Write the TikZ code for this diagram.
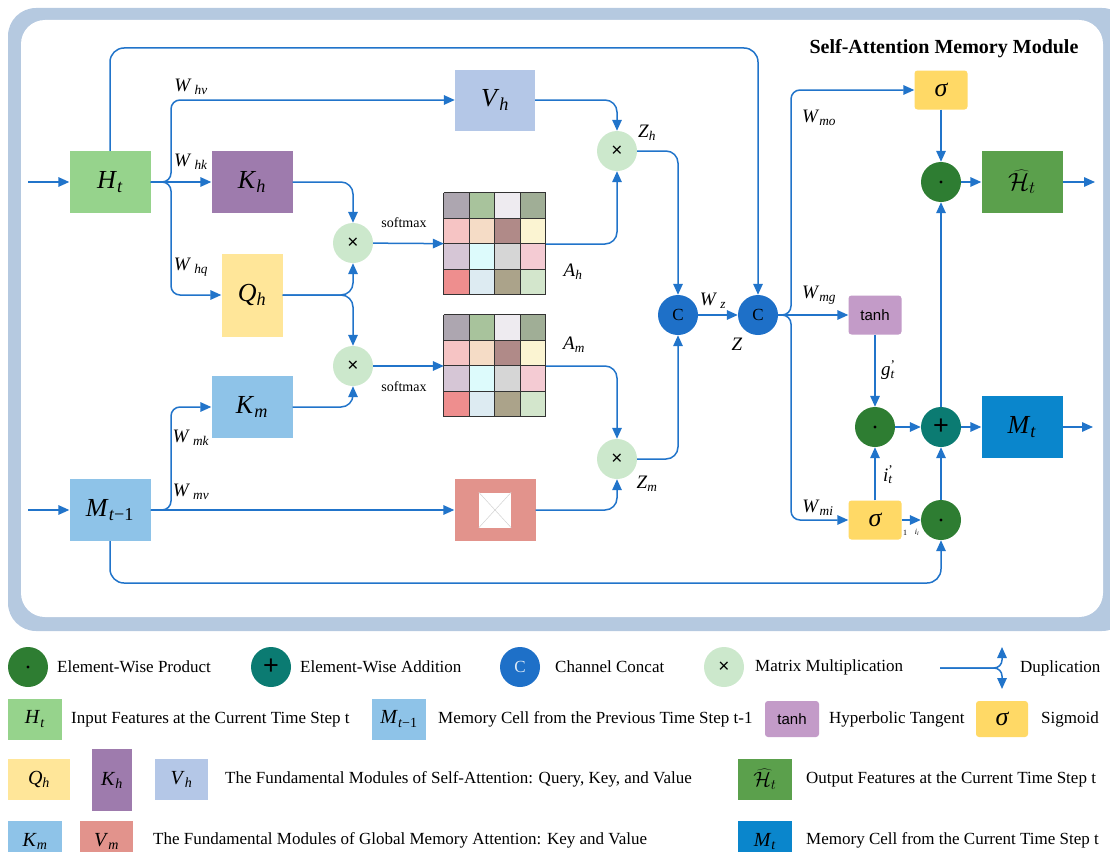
\documentclass[tikz,border=0pt]{standalone}
\usepackage{fontspec}
\setmainfont{Liberation Serif}
\newfontfamily\sansf{Liberation Sans}
\usetikzlibrary{arrows.meta}

\definecolor{framec}{HTML}{B5C9E0}
\definecolor{flowc}{HTML}{2174CA}
\definecolor{htc}{HTML}{96D38C}
\definecolor{khc}{HTML}{9E7BAD}
\definecolor{qhc}{HTML}{FFE699}
\definecolor{vhc}{HTML}{B4C7E7}
\definecolor{kmc}{HTML}{8EC3E8}
\definecolor{vmc}{HTML}{E2938C}
\definecolor{mulc}{HTML}{CCE8CC}
\definecolor{prodc}{HTML}{2E7D32}
\definecolor{addc}{HTML}{0B7B72}
\definecolor{catc}{HTML}{1E70C8}
\definecolor{sigc}{HTML}{FFD966}
\definecolor{tanhc}{HTML}{C39BC8}
\definecolor{hoc}{HTML}{5BA04C}
\definecolor{mtc}{HTML}{0A86CC}
\definecolor{gridc}{HTML}{333333}
% attention matrix cells
\definecolor{m1}{HTML}{ADA6B0}\definecolor{m2}{HTML}{A8C39C}\definecolor{m3}{HTML}{EEEBF0}\definecolor{m4}{HTML}{A0AE96}
\definecolor{m5}{HTML}{F6C4C4}\definecolor{m6}{HTML}{F5DCC6}\definecolor{m7}{HTML}{B08A88}\definecolor{m8}{HTML}{FBF4D2}
\definecolor{m9}{HTML}{D6C6D6}\definecolor{m10}{HTML}{DDFBFC}\definecolor{m11}{HTML}{D6D6D6}\definecolor{m12}{HTML}{F4CBD3}
\definecolor{m13}{HTML}{EE8E8E}\definecolor{m14}{HTML}{DDEBF2}\definecolor{m15}{HTML}{ABA38A}\definecolor{m16}{HTML}{D3E6CC}

\newcommand\lbl[2]{\textit{#1}\textsubscript{\textit{#2}}}

\tikzset{
  flow/.style={draw=flowc, line width=1.5pt, rounded corners=12pt, -{Triangle[length=11pt,width=9.5pt]}},
  blk/.style={rectangle, inner sep=0pt, minimum width=81pt, minimum height=62pt, font=\fontsize{26}{26}\selectfont},
  lgbox/.style={rectangle, inner sep=0pt, minimum width=54pt, minimum height=41pt, font=\fontsize{20}{20}\selectfont},
  op/.style={circle, inner sep=0pt, minimum size=40pt},
  opmul/.style={op, fill=mulc, font=\sansf\fontsize{19}{19}\selectfont},
  opprod/.style={op, fill=prodc},
  opadd/.style={op, fill=addc, font=\sansf\fontsize{27}{27}\selectfont},
  opcat/.style={op, fill=catc, font=\fontsize{17}{17}\selectfont},
  gate/.style={rectangle, rounded corners=3pt, inner sep=0pt, minimum width=53pt, minimum height=39pt},
  sigbox/.style={gate, fill=sigc, font=\itshape\fontsize{26}{26}\selectfont},
  tanhbox/.style={gate, fill=tanhc, font=\sansf\fontsize{15}{15}\selectfont},
  matbox/.style={rectangle, inner sep=0pt, minimum size=102pt},
  wlab/.style={font=\fontsize{19}{19}\selectfont, inner sep=0pt},
  smalltext/.style={font=\fontsize{14}{14}\selectfont, inner sep=0pt},
  legtext/.style={anchor=west, font=\fontsize{17}{17}\selectfont, inner sep=0pt},
}

% 4x4 attention map
\newcommand\attmat[2]{%
  \node[matbox] (#1) at (#2) {};
  \foreach \clr [count=\k from 0] in {m1,m2,m3,m4,m5,m6,m7,m8,m9,m10,m11,m12,m13,m14,m15,m16} {
    \pgfmathtruncatemacro\mc{mod(\k,4)}
    \pgfmathtruncatemacro\mr{\k/4}
    \fill[\clr, shift={(#1.north west)}] (\mc*25.5,\mr*25.5) rectangle ++(25.5,25.5);
  }
  \foreach \g in {0,25.5,51,76.5,102} {
    \draw[gridc, line width=0.9pt, shift={(#1.north west)}] (\g,0) -- (\g,102) (0,\g) -- (102,\g);
  }
}

\begin{document}
\begin{tikzpicture}[x=1pt,y=-1pt]
\useasboundingbox (0,0) rectangle (1110,851);
% frame
\fill[framec, rounded corners=28pt] (8,8) rectangle (1130,631);
\fill[white, rounded corners=24pt] (21,20) rectangle (1103,617);
\node[font=\bfseries\fontsize{20}{20}\selectfont] (title) at (944,49) {Self-Attention Memory Module};

% blocks
\node[blk, fill=htc] (Ht) at (110,182) {\lbl{H}{t}};
\node[blk, fill=khc] (Kh) at (252,182) {\lbl{K}{h}};
\node[blk, fill=qhc, minimum width=61pt, minimum height=83pt] (Qh) at (252,295) {\lbl{Q}{h}};
\node[blk, fill=vhc, minimum width=80pt, minimum height=61pt] (Vh) at (495,100) {\lbl{V}{h}};
\node[blk, fill=kmc] (Km) at (252,407) {\lbl{K}{m}};
\node[blk, fill=kmc] (Mp) at (110,510) {\textit{M}\textsubscript{\textit{t}−1}};
\node[blk, fill=vmc] (Vm) at (495,510) {};
\node[fill=white, minimum width=32pt, minimum height=35pt, inner sep=0pt] (Vmx) at (Vm) {};
\draw[gray!35, line width=0.5pt] (Vmx.north west) -- (Vmx.south east) (Vmx.north east) -- (Vmx.south west);

% attention maps
\attmat{Ah}{495,244}
\attmat{Am}{495,366}

% operators
\node[opmul] (mA) at (353,243) {×};
\node[opmul] (mB) at (353,366) {×};
\node[opmul] (Zh) at (617,151) {×};
\node[opmul] (Zm) at (617,459) {×};
\node[opcat] (Ca) at (678,315) {C};
\node[opcat] (Cb) at (758,315) {C};
\node[sigbox] (Sa) at (941,90) {σ};
\node[tanhbox] (Th) at (875,315) {tanh};
\node[sigbox] (Sb) at (875,520) {σ};
\node[opprod] (Pa) at (941,182) {};
\node[opprod] (Pb) at (875,427) {};
\node[opprod] (Pc) at (941,520) {};
\node[opadd] (Ad) at (941,427) {+};
\node[blk, fill=hoc] (Ho) at (1022,182) {$\widehat{\mathcal{H}}_t$};
\node[blk, fill=mtc] (Mt) at (1022,427) {\lbl{M}{t}};
\foreach \p in {Pa,Pb,Pc} \fill (\p) circle (1.6pt);

% free ends and bends
\coordinate (inH) at (28,182);
\coordinate (inM) at (28,510);
\coordinate (topy) at (0,48);
\coordinate (boty) at (0,583);
\coordinate (hs) at (171,182);
\coordinate (ms) at (171,510);
\coordinate (cs) at (791,315);
\coordinate (outH) at (1095,182);
\coordinate (outM) at (1093,427);

% connectors
\draw[flow] (inH) -- (Ht);
\draw[flow] (inM) -- (Mp);
\draw[flow] (Ht) -- (Kh);
\draw[flow, rounded corners=9pt] (Ht.east) -- (hs) |- (Vh);
\draw[flow, rounded corners=9pt] (Ht.east) -- (hs) |- (Qh);
\draw[flow, rounded corners=14pt] (Ht.north) |- (topy -| Cb) -- (Cb);
\draw[flow] (Kh) -| (mA);
\draw[flow] (Qh) -| (mA);
\draw[flow] (Qh) -| (mB);
\draw[flow] (Km) -| (mB);
\draw[flow] (mA) -- (Ah);
\draw[flow] (mB) -- (Am);
\draw[flow] (Ah) -| (Zh);
\draw[flow] (Vh) -| (Zh);
\draw[flow] (Am) -| (Zm);
\draw[flow] (Vm) -| (Zm);
\draw[flow] (Zh) -| (Ca);
\draw[flow] (Zm) -| (Ca);
\draw[flow] (Ca) -- (Cb);
\draw[flow] (Cb) -- (Th);
\draw[flow, rounded corners=9pt] (Cb.east) -- (cs) |- (Sa);
\draw[flow, rounded corners=9pt] (Cb.east) -- (cs) |- (Sb);
\draw[flow] (Sa) -- (Pa);
\draw[flow] (Pa) -- (Ho);
\draw[flow] (Ho) -- (outH);
\draw[flow] (Th) -- (Pb);
\draw[flow] (Sb) -- (Pb);
\draw[flow] (Pb) -- (Ad);
\draw[flow] (Sb) -- (Pc);
\draw[flow] (Pc) -- (Ad);
\draw[flow] (Ad) -- (Pa);
\draw[flow] (Ad) -- (Mt);
\draw[flow] (Mt) -- (outM);
\draw[flow, rounded corners=9pt] (Mp) -- (ms) |- (Km);
\draw[flow] (Mp) -- (Vm);
\draw[flow, rounded corners=14pt] (Mp) |- (boty -| Pc) -- (Pc);

% labels
\node[wlab] at (191,87) {\textit{W}\,\textsubscript{\textit{hv}}};
\node[wlab] at (191,162) {\textit{W}\,\textsubscript{\textit{hk}}};
\node[wlab] at (191,267) {\textit{W}\,\textsubscript{\textit{hq}}};
\node[wlab] at (191,438) {\textit{W}\,\textsubscript{\textit{mk}}};
\node[wlab] at (191,492) {\textit{W}\,\textsubscript{\textit{mv}}};
\node[wlab] at (713,301) {\textit{W}\,\textsubscript{\textit{z}}};
\node[wlab] at (819,118) {\lbl{W}{mo}};
\node[wlab] at (819,295) {\lbl{W}{mg}};
\node[wlab] at (818,508) {\lbl{W}{mi}};
\node[smalltext] at (404,223) {softmax};
\node[smalltext] at (404,387) {softmax};
\node[wlab] at (573,272) {\lbl{A}{h}};
\node[wlab] at (574,345) {\lbl{A}{m}};
\node[wlab] at (647,133) {\lbl{Z}{h}};
\node[wlab] at (647,484) {\lbl{Z}{m}};
\node[wlab] at (737,344) {\textit{Z}};
\node[wlab] at (888,370) {\textit{g}\rlap{\textsuperscript{'}}\textsubscript{\textit{t}}};
\node[wlab] at (888,475) {\textit{i}\rlap{\textsuperscript{'}}\textsubscript{\textit{t}}};
\node[font=\fontsize{8}{8}\selectfont] at (905,533) {1};
\node[font=\fontsize{8}{8}\selectfont] at (917,532) {\lbl{i}{i}};

% legend
\node[opprod] (Lp) at (28,667) {};
\fill (Lp) circle (1.6pt);
\node[legtext] at (57,667) {Element-Wise Product};
\node[opadd] (La) at (271,667) {+};
\node[legtext] at (300,667) {Element-Wise Addition};
\node[opcat, text=white!85!catc] (Lc) at (520,667) {C};
\node[legtext] at (555,667) {Channel Concat};
\node[opmul] (Lm) at (724,667) {×};
\node[legtext] at (755,667) {Matrix Multiplication};
\coordinate (dA) at (940,668);
\coordinate (dU) at (1002,647);
\coordinate (dD) at (1002,689);
\draw[flow, rounded corners=8pt] (dA) -| (dU);
\draw[flow, rounded corners=8pt] (dA) -| (dD);
\node[legtext] at (1020,668) {Duplication};

\node[lgbox, fill=htc] (LHt) at (35,719) {\lbl{H}{t}};
\node[legtext] at (71,719) {Input Features at the Current Time Step t};
\node[lgbox, fill=kmc] (LMp) at (399,719) {\textit{M}\textsubscript{\textit{t}−1}};
\node[legtext] at (438,719) {Memory Cell from the Previous Time Step t-1};
\node[tanhbox, minimum width=54pt, minimum height=36pt] (LTh) at (792,719) {tanh};
\node[legtext] at (829,719) {Hyperbolic Tangent};
\node[sigbox, minimum width=52pt, minimum height=36pt] (LSg) at (1002,719) {σ};
\node[legtext] at (1041,719) {Sigmoid};

\node[lgbox, fill=qhc, minimum width=62pt] (LQh) at (39,779.5) {\lbl{Q}{h}};
\node[lgbox, fill=khc, minimum width=40pt, minimum height=62pt] (LKh) at (112,780) {\lbl{K}{h}};
\node[lgbox, fill=vhc, minimum width=53pt] (LVh) at (181.5,779.5) {\lbl{V}{h}};
\node[legtext] at (225,779) {The Fundamental Modules of Self-Attention: Query, Key, and Value};
\node[lgbox, fill=hoc] (LHo) at (765,779.5) {$\widehat{\mathcal{H}}_t$};
\node[legtext] at (806,779) {Output Features at the Current Time Step t};

\node[lgbox, fill=kmc] (LKm) at (35,841.5) {\lbl{K}{m}};
\node[lgbox, fill=vmc, minimum width=53pt] (LVm) at (106.5,841.5) {\lbl{V}{m}};
\node[legtext] at (153,840) {The Fundamental Modules of Global Memory Attention: Key and Value};
\node[lgbox, fill=mtc] (LMt) at (765,841.5) {\lbl{M}{t}};
\node[legtext] at (806,840) {Memory Cell from the Current Time Step t};
\end{tikzpicture}
\end{document}
